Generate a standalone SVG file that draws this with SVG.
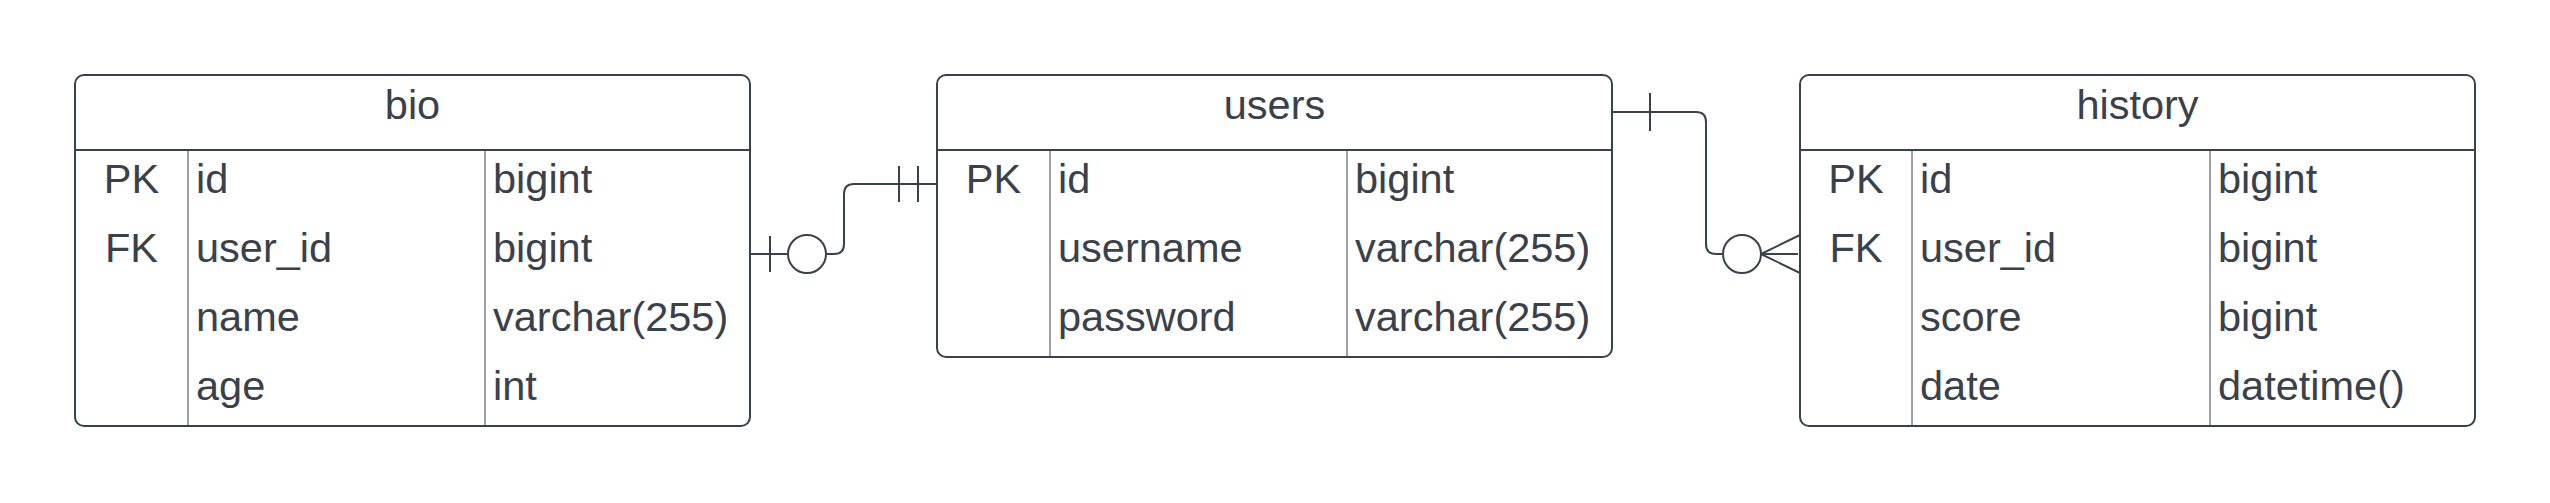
<svg xmlns="http://www.w3.org/2000/svg" width="2550" height="503" viewBox="0 0 2550 503">
<style>
.box{fill:#ffffff;stroke:#3a414a;stroke-width:2}
.hl{stroke:#3a414a;stroke-width:2}
.cl{stroke:#3a414a;stroke-width:1}
text{font-family:"Liberation Sans",Arial,sans-serif;font-size:41.5px;fill:#3a414a}
.t{text-anchor:middle}
.k{text-anchor:middle}
.conn{fill:none;stroke:#3a414a;stroke-width:2}
.circ{fill:#ffffff;stroke:#3a414a;stroke-width:2}
</style>
<rect width="2550" height="503" fill="#ffffff"/>
<g id="bio">
<rect class="box" x="75" y="75" width="675" height="351" rx="9"/>
<line class="hl" x1="75" y1="150" x2="750" y2="150"/>
<line class="cl" x1="188" y1="150" x2="188" y2="426"/>
<line class="cl" x1="485" y1="150" x2="485" y2="426"/>
<text class="t" x="412.5" y="119">bio</text>
<text class="k" x="131.5" y="193">PK</text>
<text x="196" y="193">id</text>
<text x="493" y="193">bigint</text>
<text class="k" x="131.5" y="262">FK</text>
<text x="196" y="262">user_id</text>
<text x="493" y="262">bigint</text>
<text x="196" y="331">name</text>
<text x="493" y="331">varchar(255)</text>
<text x="196" y="400">age</text>
<text x="493" y="400">int</text>
</g>
<g id="users">
<rect class="box" x="937" y="75" width="675" height="282" rx="9"/>
<line class="hl" x1="937" y1="150" x2="1612" y2="150"/>
<line class="cl" x1="1050" y1="150" x2="1050" y2="357"/>
<line class="cl" x1="1347" y1="150" x2="1347" y2="357"/>
<text class="t" x="1274.5" y="119">users</text>
<text class="k" x="993.5" y="193">PK</text>
<text x="1058" y="193">id</text>
<text x="1355" y="193">bigint</text>
<text x="1058" y="262">username</text>
<text x="1355" y="262">varchar(255)</text>
<text x="1058" y="331">password</text>
<text x="1355" y="331">varchar(255)</text>
</g>
<g id="history">
<rect class="box" x="1800" y="75" width="675" height="351" rx="9"/>
<line class="hl" x1="1800" y1="150" x2="2475" y2="150"/>
<line class="cl" x1="1912" y1="150" x2="1912" y2="426"/>
<line class="cl" x1="2210" y1="150" x2="2210" y2="426"/>
<text class="t" x="2137.5" y="119">history</text>
<text class="k" x="1856" y="193">PK</text>
<text x="1920" y="193">id</text>
<text x="2218" y="193">bigint</text>
<text class="k" x="1856" y="262">FK</text>
<text x="1920" y="262">user_id</text>
<text x="2218" y="262">bigint</text>
<text x="1920" y="331">score</text>
<text x="2218" y="331">bigint</text>
<text x="1920" y="400">date</text>
<text x="2218" y="400">datetime()</text>
</g>
<g id="connectors">
<path class="conn" d="M750,254 H788"/>
<line class="conn" x1="770" y1="236" x2="770" y2="272"/>
<circle class="circ" cx="807" cy="254" r="19"/>
<path class="conn" d="M826,254 H834 Q844,254 844,244 V194 Q844,184 854,184 H937"/>
<line class="conn" x1="899" y1="166" x2="899" y2="202"/>
<line class="conn" x1="918" y1="166" x2="918" y2="202"/>
<path class="conn" d="M1612,112 H1696 Q1706,112 1706,122 V244 Q1706,254 1716,254 H1723"/>
<line class="conn" x1="1650" y1="93" x2="1650" y2="131"/>
<circle class="circ" cx="1742" cy="254" r="19"/>
<path class="conn" d="M1761,254 L1800,235 M1761,254 L1798,254 M1761,254 L1800,273"/>
</g>
</svg>
